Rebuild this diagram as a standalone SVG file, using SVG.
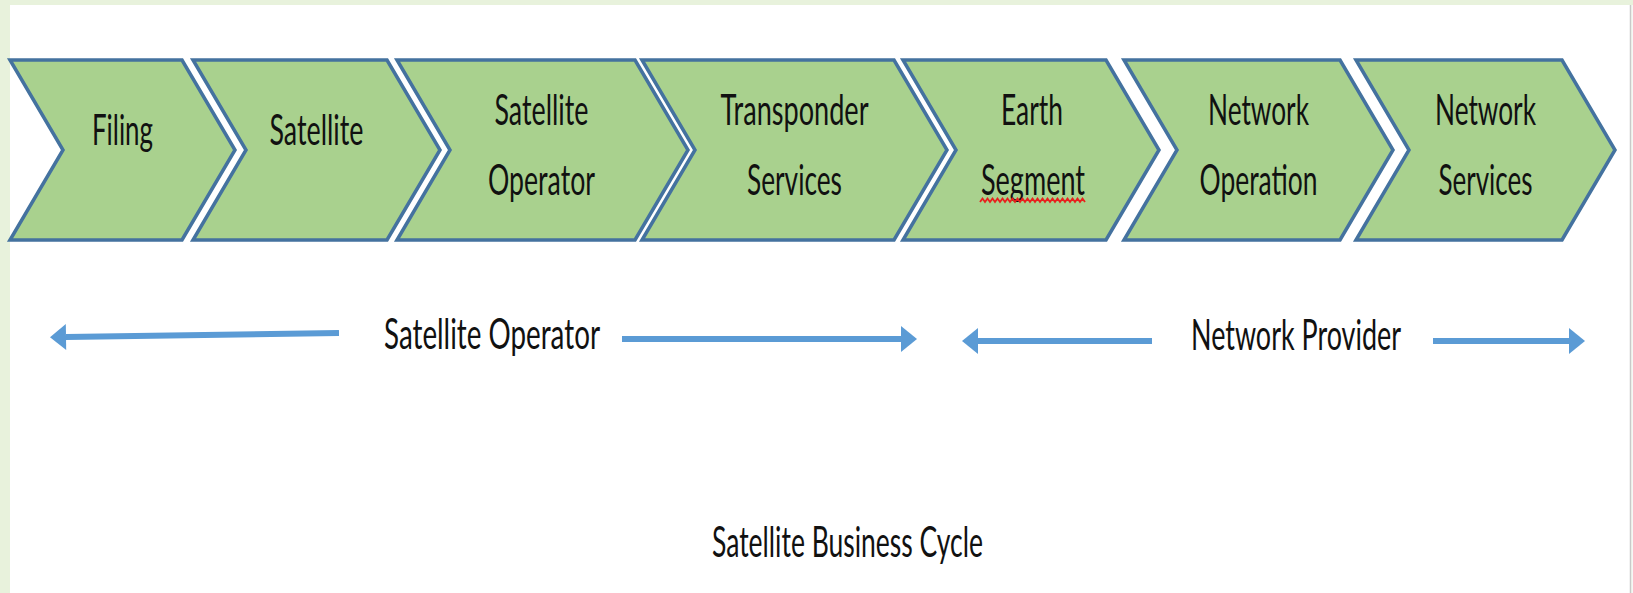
<svg xmlns="http://www.w3.org/2000/svg" width="1633" height="593" viewBox="0 0 1633 593">
  <style>
    .chev { fill: #a9d18e; stroke: #44729f; stroke-width: 3.5; stroke-linejoin: miter; }
    .lbl { font-family: Lato, "Open Sans", "Liberation Sans", sans-serif; font-size: 42px; fill: #111; text-anchor: middle; }
    .conn { stroke: #5b9bd5; stroke-width: 6; fill: none; }
  </style>
  <defs>
    <marker id="ah" markerUnits="userSpaceOnUse" markerWidth="18" markerHeight="28" refX="0" refY="13" orient="auto" overflow="visible">
      <path d="M0,0 L16,13 L0,26 z" fill="#5b9bd5"/>
    </marker>
  </defs>

  <!-- frame -->
  <rect x="0" y="0" width="1633" height="593" fill="#e8f2dc"/>
  <rect x="10" y="5" width="1620" height="588" fill="#ffffff"/>
  <line x1="1630.5" y1="5" x2="1630.5" y2="593" stroke="#c9c9c9" stroke-width="1.5"/>
  <rect x="1631.5" y="5" width="1.5" height="588" fill="#f6f6f6"/>

  <g id="node-filing">
    <path class="chev" d="M10,60 L182,60 L235,150 L182,240 L10,240 L63,150 Z"/>
    <text class="lbl" x="122.5" y="145" textLength="61" lengthAdjust="spacingAndGlyphs">Filing</text>
  </g>
  <g id="node-satellite">
    <path class="chev" d="M193,60 L387,60 L440,150 L387,240 L193,240 L246,150 Z"/>
    <text class="lbl" x="316.5" y="145" textLength="94" lengthAdjust="spacingAndGlyphs">Satellite</text>
  </g>
  <g id="node-satellite-operator">
    <path class="chev" d="M397,60 L635,60 L688,150 L635,240 L397,240 L450,150 Z"/>
    <text class="lbl" x="541.5" y="125" textLength="94" lengthAdjust="spacingAndGlyphs">Satellite</text>
    <text class="lbl" x="541.5" y="195" textLength="107" lengthAdjust="spacingAndGlyphs">Operator</text>
  </g>
  <g id="node-transponder-services">
    <path class="chev" d="M642,60 L894,60 L947,150 L894,240 L642,240 L695,150 Z"/>
    <text class="lbl" x="794.5" y="125" textLength="148" lengthAdjust="spacingAndGlyphs">Transponder</text>
    <text class="lbl" x="794.5" y="195" textLength="95" lengthAdjust="spacingAndGlyphs">Services</text>
  </g>
  <g id="node-earth-segment">
    <path class="chev" d="M903,60 L1106,60 L1159,150 L1106,240 L903,240 L956,150 Z"/>
    <text class="lbl" x="1032" y="125" textLength="62" lengthAdjust="spacingAndGlyphs">Earth</text>
    <text class="lbl" x="1033" y="195" textLength="104" lengthAdjust="spacingAndGlyphs">Segment</text>
    <path d="M980,202 l2.5,-3.5 l2.5,3.5 l2.5,-3.5 l2.5,3.5 l2.5,-3.5 l2.5,3.5 l2.5,-3.5 l2.5,3.5 l2.5,-3.5 l2.5,3.5 l2.5,-3.5 l2.5,3.5 l2.5,-3.5 l2.5,3.5 l2.5,-3.5 l2.5,3.5 l2.5,-3.5 l2.5,3.5 l2.5,-3.5 l2.5,3.5 l2.5,-3.5 l2.5,3.5 l2.5,-3.5 l2.5,3.5 l2.5,-3.5 l2.5,3.5 l2.5,-3.5 l2.5,3.5 l2.5,-3.5 l2.5,3.5 l2.5,-3.5 l2.5,3.5 l2.5,-3.5 l2.5,3.5 l2.5,-3.5 l2.5,3.5 l2.5,-3.5 l2.5,3.5 l2.5,-3.5 l2.5,3.5 l2.5,-3.5 l2.5,3.5" fill="none" stroke="#e8201c" stroke-width="1.8"/>
  </g>
  <g id="node-network-operation">
    <path class="chev" d="M1124,60 L1340,60 L1393,150 L1340,240 L1124,240 L1177,150 Z"/>
    <text class="lbl" x="1258.5" y="125" textLength="101" lengthAdjust="spacingAndGlyphs">Network</text>
    <text class="lbl" x="1258.5" y="195" textLength="118" lengthAdjust="spacingAndGlyphs">Operation</text>
  </g>
  <g id="node-network-services">
    <path class="chev" d="M1356,60 L1562,60 L1615,150 L1562,240 L1356,240 L1409,150 Z"/>
    <text class="lbl" x="1485.5" y="125" textLength="101" lengthAdjust="spacingAndGlyphs">Network</text>
    <text class="lbl" x="1485.5" y="195" textLength="94" lengthAdjust="spacingAndGlyphs">Services</text>
  </g>

  <g id="connectors">
    <line class="conn" x1="339" y1="333" x2="66" y2="337" marker-end="url(#ah)"/>
    <line class="conn" x1="622" y1="339" x2="901" y2="339" marker-end="url(#ah)"/>
    <line class="conn" x1="1152" y1="341" x2="978" y2="341" marker-end="url(#ah)"/>
    <line class="conn" x1="1433" y1="341" x2="1569" y2="341" marker-end="url(#ah)"/>
  </g>

  <g id="label-satellite-operator">
    <text class="lbl" x="492" y="349" textLength="216" lengthAdjust="spacingAndGlyphs">Satellite Operator</text>
  </g>
  <g id="label-network-provider">
    <text class="lbl" x="1296" y="350" textLength="210" lengthAdjust="spacingAndGlyphs">Network Provider</text>
  </g>
  <g id="title">
    <text class="lbl" x="847.5" y="557" textLength="271" lengthAdjust="spacingAndGlyphs">Satellite Business Cycle</text>
  </g>
</svg>
